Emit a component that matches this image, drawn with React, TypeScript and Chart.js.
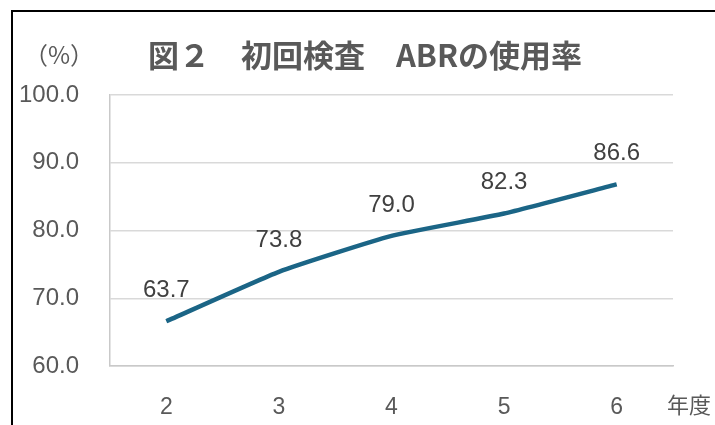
import React, { useEffect, useRef } from "react";
import { Chart, registerables } from "chart.js";

Chart.register(...registerables);

const categories = ["2", "3", "4", "5", "6"];
const plottedValues = [66.6, 73.9, 79.2, 82.5, 86.8];
const valueLabels = ["63.7", "73.8", "79.0", "82.3", "86.6"];
const titleText = "図２　初回検査　ABRの使用率";
const yUnitText = "（%）";
const xUnitText = "年度";

const W = 715;
const H = 425;

const overlayPlugin = {
  id: "overlay",
  afterDatasetsDraw(chart: any) {
    const ctx = chart.ctx;
    const meta = chart.getDatasetMeta(0);
    ctx.save();
    ctx.fillStyle = "#404040";
    ctx.font = '24px "Liberation Sans", Arial, sans-serif';
    ctx.textAlign = "center";
    ctx.textBaseline = "middle";
    meta.data.forEach((pt: any, i: number) => {
      ctx.fillText(valueLabels[i], pt.x, pt.y - 31);
    });
    ctx.restore();
  },
  afterDraw(chart: any) {
    const ctx = chart.ctx;
    ctx.save();
    ctx.fillStyle = "#595959";
    ctx.textBaseline = "middle";
    ctx.textAlign = "left";
    ctx.font = 'bold 31px "Noto Sans CJK JP", sans-serif';
    ctx.fillText(titleText, 148, 55);
    ctx.font = '24px "Noto Sans CJK JP", sans-serif';
    ctx.fillText(yUnitText, 24, 55);
    ctx.font = '22px "Noto Sans CJK JP", sans-serif';
    ctx.fillText(xUnitText, 667, 405);
    ctx.restore();
  },
};

export default function App() {
  const ref = useRef<HTMLCanvasElement | null>(null);
  useEffect(() => {
    if (!ref.current) return;
    const chart = new Chart(ref.current, {
      type: "line",
      data: {
        labels: categories,
        datasets: [
          {
            data: plottedValues,
            borderColor: "#1b6586",
            borderWidth: 4.5,
            pointRadius: 0,
            tension: 0.15,
            fill: false,
          },
        ],
      },
      options: {
        animation: false,
        responsive: false,
        maintainAspectRatio: false,
        layout: { padding: { left: 0, right: 42, top: 95, bottom: 0 } },
        plugins: {
          legend: { display: false },
          tooltip: { enabled: false },
          title: { display: false },
        },
        scales: {
          x: {
            offset: true,
            afterFit: (s: any) => {
              s.height = 59;
            },
            grid: { display: false, drawTicks: false },
            border: { display: true, color: "#c9c9c9", width: 1.5 },
            ticks: {
              padding: 28,
              color: "#595959",
              font: { size: 23, family: '"Liberation Sans", Arial, sans-serif' },
            },
          },
          y: {
            min: 60,
            max: 100,
            afterFit: (s: any) => {
              s.width = 110;
            },
            grid: { color: "#d9d9d9", lineWidth: 1.5, drawTicks: false },
            border: { display: true, color: "#c9c9c9", width: 1.5 },
            ticks: {
              stepSize: 10,
              padding: 31,
              color: "#595959",
              font: { size: 24, family: '"Liberation Sans", Arial, sans-serif' },
              callback: (v: any) => Number(v).toFixed(1),
            },
          },
        },
      },
      plugins: [overlayPlugin],
    });
    return () => chart.destroy();
  }, []);

  return (
    <div
      style={{
        position: "fixed",
        left: 0,
        top: 0,
        width: W,
        height: H,
        overflow: "hidden",
        background: "#fff",
      }}
    >
      <canvas ref={ref} width={W} height={H} style={{ position: "absolute", left: 0, top: 0 }} />
      <div
        style={{
          position: "absolute",
          left: 11,
          top: 10,
          width: W,
          height: H,
          borderLeft: "2px solid #000",
          borderTop: "2px solid #000",
          pointerEvents: "none",
        }}
      />
    </div>
  );
}
